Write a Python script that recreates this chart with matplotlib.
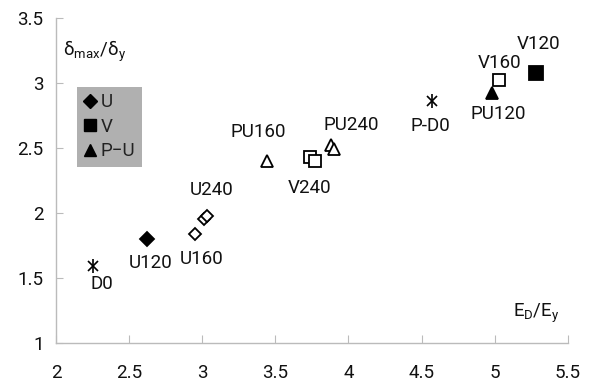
import matplotlib
matplotlib.use("Agg")
import matplotlib.pyplot as plt
from matplotlib.lines import Line2D

plt.rcParams['font.family'] = ['Roboto', 'DejaVu Sans']
plt.rcParams['mathtext.fontset'] = 'custom'
plt.rcParams['mathtext.rm'] = 'Roboto'
plt.rcParams['mathtext.it'] = 'Roboto'

# specimen results: energy ratio vs displacement ratio
names = ["D0", "U120", "U160", "U240", "U240", "PU160", "V240", "V240",
         "PU240", "PU240", "P-D0", "PU120", "V160", "V120"]
ed_ey = [2.25, 2.62, 2.95, 3.01, 3.03, 3.44, 3.74, 3.77,
         3.88, 3.90, 4.57, 4.98, 5.03, 5.28]
dmax_dy = [1.59, 1.80, 1.84, 1.95, 1.98, 2.40, 2.43, 2.40,
           2.52, 2.49, 2.86, 2.92, 3.02, 3.08]
groups = ["D", "U", "U", "U", "U", "PU", "V", "V",
          "PU", "PU", "D", "PU", "V", "V"]
filled = [True, True, False, False, False, False, False, False,
          False, False, True, True, False, True]

x_ticks = [2, 2.5, 3, 3.5, 4, 4.5, 5, 5.5]
y_ticks = [1, 1.5, 2, 2.5, 3, 3.5]

legend_labels = ["U", "V", "P\u2212U"]

# label placement (offset points from the first mark of each name)
label_offsets = {
    "D0": (6.5, -13), "U120": (2.7, -17.5), "U160": (4.8, -18),
    "U240": (5.8, 21), "PU160": (-6.3, 20.7), "V240": (-0.7, -22.3),
    "PU240": (15, 15), "P-D0": (-1.2, -17.5), "PU120": (4.5, -15),
    "V160": (0.5, 12.2), "V120": (2.2, 20.4),
}

markers = {"U": "D", "V": "s", "PU": "^"}
sizes = {"U": (7.5, 6.5), "V": (9.5, 9), "PU": (9, 8)}
FS = 13.5

fig = plt.figure(figsize=(5.92, 3.87), dpi=100)
ax = fig.add_axes([0.0946, 0.1137, 0.8644, 0.8398])

for x, y, g, f in zip(ed_ey, dmax_dy, groups, filled):
    if g == "D":
        ax.plot(x, y, marker="x", ms=7, mew=1.2, color="black", ls="none")
        ax.plot(x, y, marker="|", ms=10, mew=1.2, color="black", ls="none")
        continue
    ms = sizes[g][0] if f else sizes[g][1]
    ax.plot(x, y, marker=markers[g], ms=ms, mew=1.3, ls="none",
            markeredgecolor="black",
            markerfacecolor="black" if f else "white")

done = set()
for n, x, y in zip(names, ed_ey, dmax_dy):
    if n in done:
        continue
    done.add(n)
    ax.annotate(n, (x, y), xytext=label_offsets[n], textcoords="offset points",
                ha="center", va="center", fontsize=FS, color="#111111")

ax.set_xlim(2, 5.5)
ax.set_ylim(1, 3.5)
ax.set_xticks(x_ticks)
ax.set_xticklabels([f"{t:g}" for t in x_ticks])
ax.set_yticks(y_ticks)
ax.set_yticklabels([f"{t:g}" for t in y_ticks])
ax.tick_params(axis="x", direction="in", length=6, width=0.8, color="#bbbbbb",
               pad=15, labelsize=FS, labelcolor="#111111")
ax.tick_params(axis="y", direction="in", length=5, width=0.8, color="#bbbbbb",
               pad=9, labelsize=FS, labelcolor="#111111")
for s in ("top", "right"):
    ax.spines[s].set_visible(False)
for s in ("left", "bottom"):
    ax.spines[s].set_color("#bbbbbb")
    ax.spines[s].set_linewidth(1)

ax.text(0.014, 0.898, r"$\mathrm{\delta_{max}/\delta_y}$", transform=ax.transAxes,
        fontsize=FS, ha="left", va="center", color="#111111")
ax.text(0.893, 0.092, r"$\mathrm{E_D/E_y}$", transform=ax.transAxes,
        fontsize=FS, ha="left", va="center", color="#111111")

handles = [Line2D([], [], marker=m, ls="none", color="black", ms=s)
           for m, s in zip(["D", "s", "^"], [7.5, 9, 9])]
leg = ax.legend(handles, legend_labels, loc="upper left",
                bbox_to_anchor=(0.041, 0.789), borderaxespad=0,
                frameon=True, fancybox=False, facecolor="#b0b0b0",
                edgecolor="none", framealpha=1, fontsize=FS,
                handlelength=0.7, handletextpad=0.2, borderpad=0.35,
                labelspacing=0.35)
for t in leg.get_texts():
    t.set_color("#222222")

fig.savefig("out.png", dpi=100)
